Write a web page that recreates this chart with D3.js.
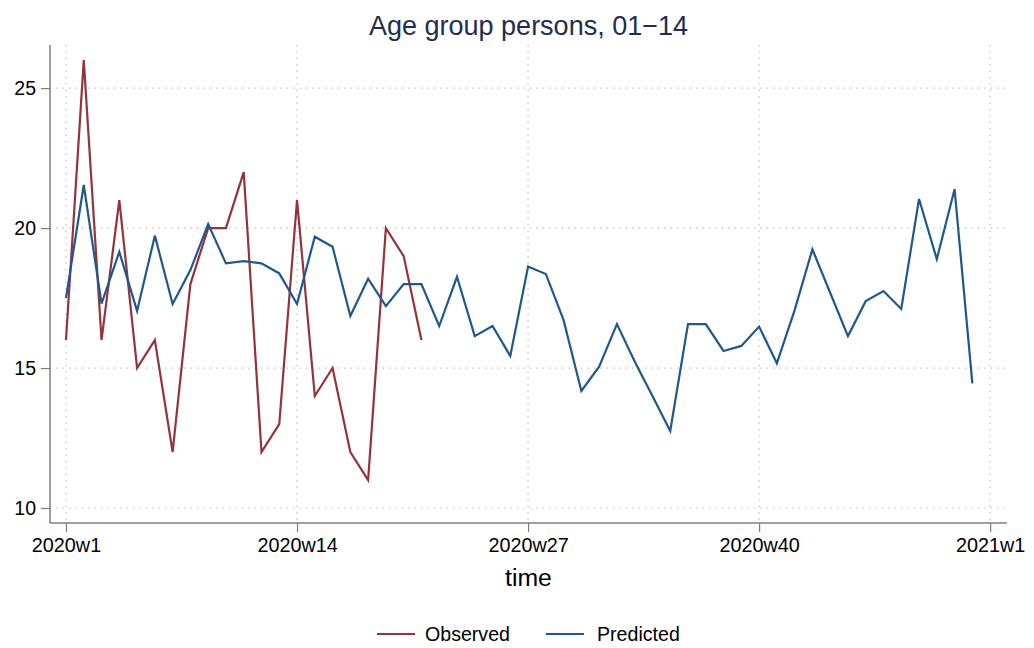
<!DOCTYPE html>
<html>
<head>
<meta charset="utf-8">
<script src="https://cdn.jsdelivr.net/npm/d3@7"></script>
<style>
  body { margin: 0; background: #fff; }
  svg { display: block; font-family: "Liberation Sans", Arial, Helvetica, sans-serif; }
</style>
</head>
<body>
<svg id="chart" width="1034" height="648"></svg>
<script>
const title = "Age group persons, 01\u221214";
const xTickWeeks = [1, 14, 27, 40, 53];
const xTickLabels = ["2020w1", "2020w14", "2020w27", "2020w40", "2021w1"];
const yTicks = [10, 15, 20, 25];
const seriesNames = ["Observed", "Predicted"];
const seriesColors = ["#94333c", "#20588c"];

// Week index (1 = 2020w1)
const observedWeeks = d3.range(1, 22);
const observed = [16, 26, 16, 21, 15, 16, 12, 18, 20, 20, 22, 12, 13, 21, 14, 15, 12, 11, 20, 19, 16];

const predictedWeeks = d3.range(1, 53);
const predicted = [17.5, 21.54, 17.3, 19.15, 17.04, 19.73, 17.29, 18.5, 20.14, 18.74,
  18.82, 18.74, 18.38, 17.29, 19.69, 19.33, 16.86, 18.19, 17.21, 18.0,
  18.0, 16.5, 18.26, 16.14, 16.5, 15.43, 18.63, 18.36, 16.71, 14.18,
  15.05, 16.57, 15.23, 14.0, 12.75, 16.57, 16.57, 15.61, 15.79, 16.48,
  15.17, 17.07, 19.24, 17.69, 16.14, 17.39, 17.75, 17.11, 21.04, 18.89,
  21.39, 14.45];

const svg = d3.select("#chart");
const pL = 50, pR = 1007, pT = 45, pB = 523;

const x = d3.scaleLinear().domain([0.1, 53.95]).range([pL, pR]);
const y = d3.scaleLinear().domain([9.464, 26.54]).range([pB, pT]);

// gridlines
const grid = svg.append("g");
grid.selectAll("line.h").data(yTicks).enter().append("line")
  .attr("x1", pL).attr("x2", pR)
  .attr("y1", d => y(d)).attr("y2", d => y(d))
  .attr("stroke", "#b4b4b4").attr("stroke-width", 1.2).attr("stroke-dasharray", "1.2,5.2");
grid.selectAll("line.v").data(xTickWeeks).enter().append("line")
  .attr("y1", pT).attr("y2", pB)
  .attr("x1", d => x(d)).attr("x2", d => x(d))
  .attr("stroke", "#b4b4b4").attr("stroke-width", 1.2).attr("stroke-dasharray", "1.2,5.2");

// axes
const yAxis = d3.axisLeft(y).tickValues(yTicks).tickSize(9).tickPadding(5);
const gy = svg.append("g").attr("transform", `translate(${pL},0)`).call(yAxis);
gy.select(".domain").attr("d", `M0,${pT}V${pB}`).attr("stroke", "#7f7f7f").attr("stroke-width", 1.5);
gy.selectAll(".tick line").attr("stroke", "#7f7f7f").attr("stroke-width", 1.2);
gy.selectAll(".tick text").attr("font-size", 19.5).attr("fill", "#000")
  .attr("font-family", "Liberation Sans, Arial, sans-serif");

const xAxis = d3.axisBottom(x).tickValues(xTickWeeks)
  .tickFormat((d, i) => xTickLabels[i]).tickSize(9).tickPadding(6);
const gx = svg.append("g").attr("transform", `translate(0,${pB})`).call(xAxis);
gx.select(".domain").attr("d", `M${pL},0H${pR}`).attr("stroke", "#7f7f7f").attr("stroke-width", 1.5);
gx.selectAll(".tick line").attr("stroke", "#7f7f7f").attr("stroke-width", 1.2);
gx.selectAll(".tick text").attr("font-size", 19.8).attr("fill", "#000")
  .attr("font-family", "Liberation Sans, Arial, sans-serif");

// lines
const line = d3.line().x(d => x(d[0])).y(d => y(d[1]));
svg.append("path")
  .datum(observedWeeks.map((w, i) => [w, observed[i]]))
  .attr("d", line).attr("fill", "none")
  .attr("stroke", seriesColors[0]).attr("stroke-width", 2.2).attr("stroke-linejoin", "miter");
svg.append("path")
  .datum(predictedWeeks.map((w, i) => [w, predicted[i]]))
  .attr("d", line).attr("fill", "none")
  .attr("stroke", seriesColors[1]).attr("stroke-width", 2.2).attr("stroke-linejoin", "miter");

// title
svg.append("text").attr("x", (pL + pR) / 2).attr("y", 35)
  .attr("text-anchor", "middle").attr("font-size", 27).attr("fill", "#1e2d52")
  .text(title);

// x title
svg.append("text").attr("x", (pL + pR) / 2).attr("y", 586)
  .attr("text-anchor", "middle").attr("font-size", 24.8).attr("fill", "#000")
  .text("time");

// legend
const legendItems = [
  { name: seriesNames[0], color: seriesColors[0], x: 377, tx: 425 },
  { name: seriesNames[1], color: seriesColors[1], x: 546, tx: 597 }
];
const lg = svg.append("g");
legendItems.forEach(it => {
  lg.append("line").attr("x1", it.x).attr("x2", it.x + 38)
    .attr("y1", 634).attr("y2", 634)
    .attr("stroke", it.color).attr("stroke-width", 2);
  lg.append("text").attr("x", it.tx).attr("y", 641)
    .attr("font-size", 19.6).attr("fill", "#000").text(it.name);
});
</script>
</body>
</html>
